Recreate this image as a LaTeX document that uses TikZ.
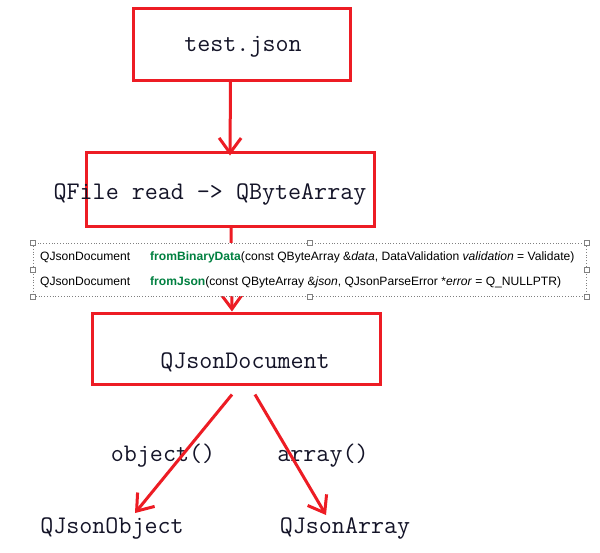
\documentclass[tikz,border=0pt]{standalone}
\usepackage{fontspec}
\setmainfont{Liberation Sans}
\usetikzlibrary{arrows.meta,calc}
\definecolor{qred}{RGB}{237,28,36}
\definecolor{qgreen}{RGB}{0,128,64}
\definecolor{qtext}{RGB}{20,20,40}
\begin{document}
\begin{tikzpicture}[x=1pt,y=-1pt,
  redbox/.style={draw=qred,line width=3pt,inner sep=0pt},
  monotext/.style={font=\ttfamily\fontsize{25.3}{27}\selectfont,text=qtext,inner sep=0pt},
  link/.style={draw=qred,line width=3pt,-{Straight Barb[length=15pt,width=22pt]}},
  small/.style={font=\fontsize{12.1}{13}\selectfont,inner sep=0pt,anchor=west},
  handle/.style={draw=gray,fill=white,minimum size=5pt,inner sep=0pt,line width=0.5pt}]
\fill[white] (0,0) rectangle (600,552);
\useasboundingbox (0,0) rectangle (600,552);

% boxes
\node[redbox,minimum width=217pt,minimum height=72pt] (testbox) at (241.5,44) {};
\node[monotext] (testtxt) at (243,47) {test.json};
\node[redbox,minimum width=288pt,minimum height=74pt] (qfilebox) at (230,189) {};
\node[monotext] (qfiletxt) at (210,194) {QFile read -> QByteArray};
\node[redbox,minimum width=288pt,minimum height=71pt] (docbox) at (236,348.5) {};
\node[monotext] (doctxt) at (245,362) {QJsonDocument};

% arrows
\draw[link] ([xshift=-11pt]testbox.south) -- ([xshift=0pt,yshift=-5pt]qfilebox.north);
\draw[link] ([xshift=1pt]qfilebox.south) -- ([xshift=-4pt]docbox.north);

% dotted API box
\node[draw=gray,dotted,fill=white,line width=0.8pt,minimum width=553pt,minimum height=53pt,inner sep=0pt] (api) at (309.5,269.5) {};
\foreach \p in {north west,north,north east,west,east,south west,south,south east}
  \node[handle] at (api.\p) {};
\node[small] (d1) at (40,257) {QJsonDocument};
\node[small] (f1) at (150,257) {\textcolor{qgreen}{\bfseries fromBinaryData}(const QByteArray \&\textit{data}, DataValidation \textit{validation} = Validate)};
\node[small] (d2) at (40,282) {QJsonDocument};
\node[small] (f2) at (150,282) {\textcolor{qgreen}{\bfseries fromJson}(const QByteArray \&\textit{json}, QJsonParseError *\textit{error} = Q\_NULLPTR)};

% bottom
\node[monotext] (obj) at (112,528) {QJsonObject};
\node[monotext] (arr) at (345,528) {QJsonArray};
\node[monotext] (objlbl) at (163,456) {object()};
\node[monotext] (arrlbl) at (323,456) {array()};
\draw[link] ([xshift=-4pt,yshift=-9pt]docbox.south) -- ([xshift=23pt,yshift=4pt]obj.north);
\draw[link] ([xshift=19pt,yshift=-9pt]docbox.south) -- ([xshift=-19pt,yshift=2pt]arr.north);
\end{tikzpicture}
\end{document}
